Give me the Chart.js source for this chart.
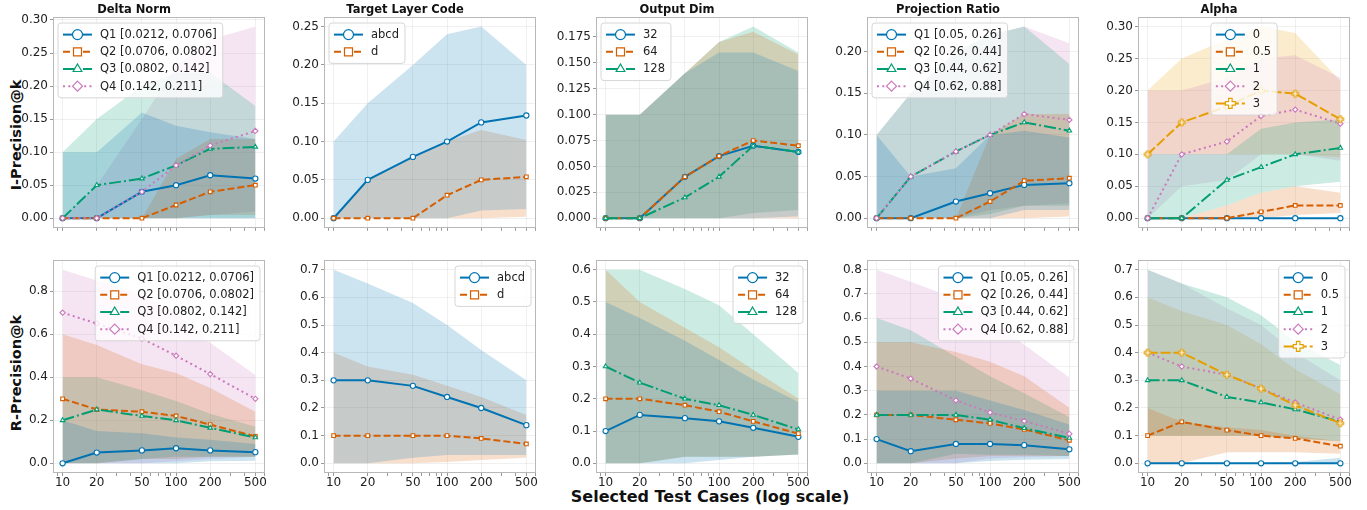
<!DOCTYPE html>
<html>
<head>
<meta charset="utf-8">
<script src="https://cdn.jsdelivr.net/npm/chart.js@4.4.0/dist/chart.umd.min.js"></script>
<style>
  body { margin: 0; background: #fff; width: 1367px; height: 510px; position: relative; overflow: hidden; font-family: "DejaVu Sans", sans-serif; }
  canvas { position: absolute; }
  .ylab { position: absolute; width: 200px; height: 18px; line-height: 18px; text-align: center; font-weight: bold; font-size: 14.5px; color: #111; transform: rotate(-90deg); }
  #xlab { position: absolute; left: 510px; width: 400px; top: 489px; text-align: center; font-weight: bold; font-size: 16px; line-height: 16px; color: #111; }
</style>
</head>
<body>
<div class="ylab" style="left:-84px; top:126px;">I-Precision@k</div>
<div class="ylab" style="left:-84px; top:364px;">R-Precision@k</div>
<div id="xlab">Selected Test Cases (log scale)</div>
<script>
// x values (selected test cases) and minor log ticks
const kValues = [10, 20, 50, 100, 200, 500];
const minorK = [9, 30, 40, 60, 70, 80, 90, 300, 400, 600];

const panelTitles = ['Delta Norm', 'Target Layer Code', 'Output Dim', 'Projection Ratio', 'Alpha'];
const deltaLabels = ['Q1 [0.0212, 0.0706]', 'Q2 [0.0706, 0.0802]', 'Q3 [0.0802, 0.142]', 'Q4 [0.142, 0.211]'];
const layerLabels = ['abcd', 'd'];
const dimLabels = ['32', '64', '128'];
const ratioLabels = ['Q1 [0.05, 0.26]', 'Q2 [0.26, 0.44]', 'Q3 [0.44, 0.62]', 'Q4 [0.62, 0.88]'];
const alphaLabels = ['0', '0.5', '1', '2', '3'];

// ---- I-Precision@k ----
const iDeltaMean = [[0, 0, 0.04, 0.05, 0.065, 0.06], [0, 0, 0, 0.02, 0.04, 0.05], [0, 0.05, 0.06, 0.08, 0.105, 0.108], [0, 0, 0.04, 0.08, 0.11, 0.132]];
const iDeltaLow  = [[0, 0, 0, 0, 0, 0], [0, 0, 0, 0, 0.005, 0.005], [0, 0, 0, 0, 0, 0], [0, 0, 0, 0, 0.005, 0.01]];
const iDeltaHigh = [[0.10, 0.10, 0.16, 0.14, 0.13, 0.12], [0, 0, 0, 0.09, 0.12, 0.12], [0.10, 0.15, 0.20, 0.22, 0.22, 0.17], [0, 0.05, 0.15, 0.23, 0.27, 0.29]];

const iLayerMean = [[0, 0.05, 0.08, 0.10, 0.125, 0.134], [0, 0, 0, 0.03, 0.05, 0.054]];
const iLayerLow  = [[0, 0, 0, 0, 0.01, 0.012], [0, 0, 0, 0, 0, 0.002]];
const iLayerHigh = [[0.10, 0.15, 0.20, 0.24, 0.25, 0.20], [0, 0.05, 0.08, 0.10, 0.115, 0.102]];

const iDimMean = [[0, 0, 0.04, 0.06, 0.07, 0.064], [0, 0, 0.04, 0.06, 0.075, 0.07], [0, 0, 0.02, 0.04, 0.07, 0.064]];
const iDimLow  = [[0, 0, 0, 0, 0, 0.002], [0, 0, 0, 0, 0, 0], [0, 0, 0, 0, 0.005, 0.008]];
const iDimHigh = [[0.10, 0.10, 0.14, 0.16, 0.16, 0.142], [0.10, 0.10, 0.14, 0.17, 0.18, 0.158], [0.10, 0.10, 0.14, 0.17, 0.185, 0.16]];

const iRatioMean = [[0, 0, 0.02, 0.03, 0.04, 0.042], [0, 0, 0, 0.02, 0.045, 0.048], [0, 0.05, 0.08, 0.10, 0.115, 0.105], [0, 0.05, 0.08, 0.10, 0.125, 0.118]];
const iRatioLow  = [[0, 0, 0, 0, 0.01, 0.01], [0, 0, 0, 0, 0, 0.002], [0, 0, 0, 0.005, 0.015, 0.015], [0, 0, 0, 0.01, 0.015, 0.018]];
const iRatioHigh = [[0.10, 0.05, 0.06, 0.10, 0.105, 0.097], [0, 0, 0, 0.10, 0.125, 0.125], [0.10, 0.15, 0.20, 0.22, 0.23, 0.185], [0.10, 0.15, 0.20, 0.22, 0.23, 0.21]];

const iAlphaMean = [[0, 0, 0, 0, 0, 0], [0, 0, 0, 0.01, 0.02, 0.02], [0, 0, 0.06, 0.08, 0.10, 0.11], [0, 0.10, 0.12, 0.16, 0.17, 0.148], [0.10, 0.15, 0.175, 0.20, 0.195, 0.155]];
const iAlphaLow  = [[0, 0, 0, 0, 0, 0], [0, 0, 0, 0, 0.005, 0.008], [0, 0, 0.02, 0.04, 0.05, 0.057], [0, 0.05, 0.06, 0.10, 0.10, 0.09], [0.10, 0.10, 0.10, 0.10, 0.10, 0.095]];
const iAlphaHigh = [[0, 0, 0, 0, 0, 0], [0, 0, 0.02, 0.04, 0.05, 0.04], [0.10, 0.10, 0.10, 0.14, 0.15, 0.155], [0.20, 0.20, 0.22, 0.25, 0.255, 0.22], [0.20, 0.25, 0.28, 0.30, 0.29, 0.215]];

// ---- R-Precision@k ----
const rDeltaMean = [[0, 0.05, 0.06, 0.07, 0.06, 0.052], [0.30, 0.25, 0.24, 0.22, 0.18, 0.125], [0.20, 0.25, 0.22, 0.20, 0.165, 0.12], [0.70, 0.65, 0.58, 0.50, 0.415, 0.30]];
const rDeltaLow  = [[0, 0, 0, 0, 0.01, 0.012], [0, 0, 0.02, 0.02, 0.03, 0.03], [0, 0, 0.02, 0.03, 0.03, 0.03], [0, 0, 0, 0.01, 0.02, 0.03]];
const rDeltaHigh = [[0.20, 0.15, 0.14, 0.12, 0.11, 0.09], [0.60, 0.55, 0.46, 0.42, 0.35, 0.24], [0.40, 0.40, 0.34, 0.29, 0.23, 0.17], [0.90, 0.85, 0.78, 0.70, 0.56, 0.41]];

const rLayerMean = [[0.30, 0.30, 0.28, 0.24, 0.20, 0.138], [0.10, 0.10, 0.10, 0.10, 0.09, 0.07]];
const rLayerLow  = [[0, 0, 0.02, 0.03, 0.03, 0.03], [0, 0, 0, 0.005, 0.012, 0.02]];
const rLayerHigh = [[0.70, 0.65, 0.58, 0.50, 0.41, 0.30], [0.40, 0.35, 0.32, 0.28, 0.24, 0.175]];

const rDimMean = [[0.10, 0.15, 0.14, 0.13, 0.11, 0.082], [0.20, 0.20, 0.18, 0.16, 0.13, 0.092], [0.30, 0.25, 0.20, 0.18, 0.15, 0.105]];
const rDimLow  = [[0, 0, 0, 0.01, 0.02, 0.027], [0, 0, 0.02, 0.02, 0.02, 0.027], [0, 0, 0.02, 0.02, 0.02, 0.027]];
const rDimHigh = [[0.50, 0.45, 0.38, 0.32, 0.26, 0.19], [0.60, 0.50, 0.42, 0.36, 0.29, 0.20], [0.60, 0.60, 0.54, 0.49, 0.40, 0.28]];

const rRatioMean = [[0.10, 0.05, 0.08, 0.08, 0.075, 0.058], [0.20, 0.20, 0.18, 0.165, 0.14, 0.095], [0.20, 0.20, 0.20, 0.18, 0.145, 0.105], [0.40, 0.35, 0.26, 0.21, 0.175, 0.122]];
const rRatioLow  = [[0, 0, 0, 0.01, 0.015, 0.018], [0, 0, 0.02, 0.03, 0.03, 0.03], [0, 0, 0.04, 0.035, 0.035, 0.03], [0, 0, 0, 0.02, 0.025, 0.03]];
const rRatioHigh = [[0.30, 0.30, 0.30, 0.26, 0.22, 0.16], [0.50, 0.50, 0.46, 0.42, 0.36, 0.23], [0.60, 0.55, 0.44, 0.36, 0.29, 0.19], [0.80, 0.75, 0.68, 0.60, 0.49, 0.355]];

const rAlphaMean = [[0, 0, 0, 0, 0, 0], [0.10, 0.15, 0.12, 0.10, 0.09, 0.062], [0.30, 0.30, 0.24, 0.22, 0.195, 0.15], [0.40, 0.35, 0.32, 0.27, 0.22, 0.158], [0.40, 0.40, 0.32, 0.27, 0.21, 0.145]];
const rAlphaLow  = [[0, 0, 0, 0, 0, 0], [0, 0, 0.04, 0.04, 0.04, 0.035], [0.10, 0.10, 0.10, 0.10, 0.09, 0.08], [0.10, 0.10, 0.10, 0.10, 0.09, 0.08], [0.10, 0.10, 0.10, 0.10, 0.09, 0.08]];
const rAlphaHigh = [[0, 0, 0, 0, 0.005, 0.02], [0.20, 0.15, 0.13, 0.12, 0.10, 0.08], [0.70, 0.65, 0.60, 0.535, 0.44, 0.355], [0.70, 0.65, 0.56, 0.50, 0.40, 0.30], [0.60, 0.55, 0.50, 0.43, 0.34, 0.25]];

const colors = ['#0173B2', '#D55E00', '#029E73', '#CC78BC', '#E69F00'];
const dashes = [[], [7, 3], [12, 3, 2, 3], [2, 3.3], [10, 3]];
const markers = ['circle', 'rect', 'triangle', 'rectRot', 'plus'];

const FONT = '"DejaVu Sans", sans-serif';

const panels = [
  { row: 0, col: 0, labels: deltaLabels, mean: iDeltaMean, low: iDeltaLow, high: iDeltaHigh, yMin: -0.0145, yMax: 0.3045, step: 0.05, dec: 2, legend: 'left' },
  { row: 0, col: 1, labels: layerLabels, mean: iLayerMean, low: iLayerLow, high: iLayerHigh, yMin: -0.0125, yMax: 0.2625, step: 0.05, dec: 2, legend: 'left' },
  { row: 0, col: 2, labels: dimLabels, mean: iDimMean, low: iDimLow, high: iDimHigh, yMin: -0.00925, yMax: 0.19425, step: 0.025, dec: 3, legend: 'left' },
  { row: 0, col: 3, labels: ratioLabels, mean: iRatioMean, low: iRatioLow, high: iRatioHigh, yMin: -0.0115, yMax: 0.2415, step: 0.05, dec: 2, legend: 'left' },
  { row: 0, col: 4, labels: alphaLabels, mean: iAlphaMean, low: iAlphaLow, high: iAlphaHigh, yMin: -0.015, yMax: 0.315, step: 0.05, dec: 2, legend: 'center' },
  { row: 1, col: 0, labels: deltaLabels, mean: rDeltaMean, low: rDeltaLow, high: rDeltaHigh, yMin: -0.045, yMax: 0.945, step: 0.2, dec: 1, legend: 'right' },
  { row: 1, col: 1, labels: layerLabels, mean: rLayerMean, low: rLayerLow, high: rLayerHigh, yMin: -0.035, yMax: 0.735, step: 0.1, dec: 1, legend: 'right' },
  { row: 1, col: 2, labels: dimLabels, mean: rDimMean, low: rDimLow, high: rDimHigh, yMin: -0.03, yMax: 0.63, step: 0.1, dec: 1, legend: 'right' },
  { row: 1, col: 3, labels: ratioLabels, mean: rRatioMean, low: rRatioLow, high: rRatioHigh, yMin: -0.04, yMax: 0.84, step: 0.1, dec: 1, legend: 'right' },
  { row: 1, col: 4, labels: alphaLabels, mean: rAlphaMean, low: rAlphaLow, high: rAlphaHigh, yMin: -0.035, yMax: 0.735, step: 0.1, dec: 1, legend: 'right' }
];

// layout of the grid (plot area lefts, canvas sizes)
const colLeft = [52.5, 324, 595.5, 867, 1138];
const yAxisW = 50;
const canvasW = 268;

function rgba(hex, a) {
  const n = parseInt(hex.slice(1), 16);
  return 'rgba(' + (n >> 16) + ',' + ((n >> 8) & 255) + ',' + (n & 255) + ',' + a + ')';
}

function markerPath(ctx, style, x, y, r) {
  ctx.beginPath();
  if (style === 'circle') {
    ctx.arc(x, y, r, 0, Math.PI * 2);
  } else if (style === 'rect') {
    const s = r * 0.8;
    ctx.rect(x - s, y - s, 2 * s, 2 * s);
  } else if (style === 'triangle') {
    ctx.moveTo(x, y - r);
    ctx.lineTo(x + r * 0.87, y + r * 0.5);
    ctx.lineTo(x - r * 0.87, y + r * 0.5);
  } else if (style === 'rectRot') {
    ctx.moveTo(x, y - r); ctx.lineTo(x + r, y); ctx.lineTo(x, y + r); ctx.lineTo(x - r, y);
  } else {
    const t = r * 0.35;
    ctx.moveTo(x - t, y - r); ctx.lineTo(x + t, y - r); ctx.lineTo(x + t, y - t); ctx.lineTo(x + r, y - t);
    ctx.lineTo(x + r, y + t); ctx.lineTo(x + t, y + t); ctx.lineTo(x + t, y + r); ctx.lineTo(x - t, y + r);
    ctx.lineTo(x - t, y + t); ctx.lineTo(x - r, y + t); ctx.lineTo(x - r, y - t); ctx.lineTo(x - t, y - t);
  }
  ctx.closePath();
}

// filled plus marker as image (Chart.js has no filled plus)
function plusImage(color, r) {
  const c = document.createElement('canvas');
  c.width = c.height = Math.ceil(2 * r + 3);
  const g = c.getContext('2d');
  markerPath(g, 'plus', c.width / 2, c.height / 2, r);
  g.fillStyle = '#fff'; g.fill();
  g.strokeStyle = color; g.lineWidth = 1.1; g.stroke();
  return c;
}
const plusImg = plusImage(colors[4], 3.2);

const framePlugin = {
  id: 'frame',
  afterDatasetsDraw(chart) {
    const a = chart.chartArea, ctx = chart.ctx;
    ctx.save();
    ctx.strokeStyle = '#b8b8b8';
    ctx.lineWidth = 1;
    ctx.strokeRect(Math.round(a.left) + 0.5, Math.round(a.top) + 0.5, Math.round(a.right - a.left) - 1, Math.round(a.bottom - a.top) - 1);
    ctx.restore();
  }
};

const boxLegend = {
  id: 'boxLegend',
  afterDraw(chart, args, opts) {
    const items = chart.data.datasets.filter(d => d.legendItem);
    const ctx = chart.ctx, a = chart.chartArea;
    ctx.save();
    ctx.font = '11.5px ' + FONT;
    const tw = Math.max(...items.map(d => ctx.measureText(d.label).width));
    const rowH = 17.2, padL = 5, sample = 29, gap = 8, padR = 6, padT = 3;
    const w = padL + sample + gap + tw + padR;
    const h = items.length * rowH + padT * 2;
    let x = a.left + 5;
    if (opts.align === 'right') x = a.right - 5 - w;
    if (opts.align === 'center') x = (a.left + a.right) / 2 - w / 2;
    const y = a.top + 6;
    const rr = 3;
    ctx.beginPath();
    ctx.moveTo(x + rr, y); ctx.lineTo(x + w - rr, y); ctx.arcTo(x + w, y, x + w, y + rr, rr);
    ctx.lineTo(x + w, y + h - rr); ctx.arcTo(x + w, y + h, x + w - rr, y + h, rr);
    ctx.lineTo(x + rr, y + h); ctx.arcTo(x, y + h, x, y + h - rr, rr);
    ctx.lineTo(x, y + rr); ctx.arcTo(x, y, x + rr, y, rr);
    ctx.closePath();
    ctx.fillStyle = 'rgba(255,255,255,0.8)';
    ctx.fill();
    ctx.strokeStyle = '#d6d6d6';
    ctx.lineWidth = 1;
    ctx.stroke();
    items.forEach((d, i) => {
      const cy = y + padT + rowH * (i + 0.5);
      ctx.strokeStyle = d.borderColor;
      ctx.lineWidth = 2;
      ctx.setLineDash(d.borderDash);
      ctx.beginPath();
      ctx.moveTo(x + padL, cy); ctx.lineTo(x + padL + sample, cy);
      ctx.stroke();
      ctx.setLineDash([]);
      markerPath(ctx, d.markerName, x + padL + sample / 2, cy, 5);
      ctx.fillStyle = '#fff'; ctx.fill();
      ctx.lineWidth = 1.2; ctx.stroke();
      ctx.fillStyle = '#222';
      ctx.textBaseline = 'middle';
      ctx.fillText(d.label, x + padL + sample + gap, cy + 0.5);
    });
    ctx.restore();
  }
};

function buildDatasets(p) {
  const ds = [];
  p.labels.forEach((lab, i) => {
    ds.push({ label: lab + ' low', data: p.low[i], borderWidth: 0, pointRadius: 0, fill: false, order: 100 });
    ds.push({ label: lab + ' high', data: p.high[i], borderWidth: 0, pointRadius: 0, fill: '-1', backgroundColor: rgba(colors[i], 0.2), order: 100 });
  });
  p.labels.forEach((lab, i) => {
    ds.push({
      label: lab,
      legendItem: true,
      markerName: markers[i],
      data: p.mean[i],
      borderColor: colors[i],
      borderWidth: 2,
      borderDash: dashes[i],
      pointStyle: markers[i] === 'plus' ? plusImg : markers[i],
      pointRadius: 2.6,
      pointBackgroundColor: '#fff',
      pointBorderColor: colors[i],
      pointBorderWidth: 1.1,
      fill: false,
      order: 50 - i
    });
  });
  return ds;
}

panels.forEach(p => {
  const cv = document.createElement('canvas');
  const h = p.row === 0 ? 237 : 245;
  cv.width = canvasW;
  cv.height = h;
  cv.style.left = (colLeft[p.col] - yAxisW) + 'px';
  cv.style.top = (p.row === 0 ? 0 : 250) + 'px';
  document.body.appendChild(cv);

  new Chart(cv, {
    type: 'line',
    data: { labels: kValues, datasets: buildDatasets(p) },
    options: {
      responsive: false,
      animation: false,
      devicePixelRatio: 1,
      layout: { padding: { top: p.row === 0 ? 0 : 10, right: 6, left: 0, bottom: 0 } },
      plugins: {
        legend: { display: false },
        tooltip: { enabled: false },
        title: {
          display: p.row === 0,
          text: panelTitles[p.col],
          color: '#111',
          font: { family: FONT, size: 11.5, weight: 'bold' },
          padding: { top: 3.2, bottom: 0 }
        },
        boxLegend: { align: p.legend }
      },
      scales: {
        x: {
          type: 'logarithmic',
          min: 8.23,
          max: 608,
          afterBuildTicks: s => {
            s.ticks = kValues.map(v => ({ value: v, major: true }))
              .concat(minorK.map(v => ({ value: v, major: false })))
              .sort((a, b) => a.value - b.value);
          },
          afterFit: s => { s.height = p.row === 0 ? 6 : 22; },
          border: { display: false },
          grid: {
            color: c => (c.tick && c.tick.major) ? 'rgba(0,0,0,0.06)' : 'rgba(0,0,0,0)',
            tickColor: '#999',
            tickLength: 3
          },
          ticks: {
            display: p.row === 1,
            autoSkip: false,
            maxRotation: 0,
            padding: 0,
            color: '#222',
            font: { family: FONT, size: 12 },
            callback: (v, i, ticks) => ticks[i].major ? String(v) : ''
          }
        },
        y: {
          min: p.yMin,
          max: p.yMax,
          afterFit: s => { s.width = yAxisW; },
          border: { display: false },
          grid: { color: 'rgba(0,0,0,0.06)', tickColor: '#999', tickLength: 3 },
          ticks: {
            stepSize: p.step,
            includeBounds: false,
            padding: 2,
            color: '#222',
            font: { family: FONT, size: 12 },
            callback: v => v.toFixed(p.dec)
          }
        }
      }
    },
    plugins: [framePlugin, boxLegend]
  });
});
</script>
</body>
</html>
